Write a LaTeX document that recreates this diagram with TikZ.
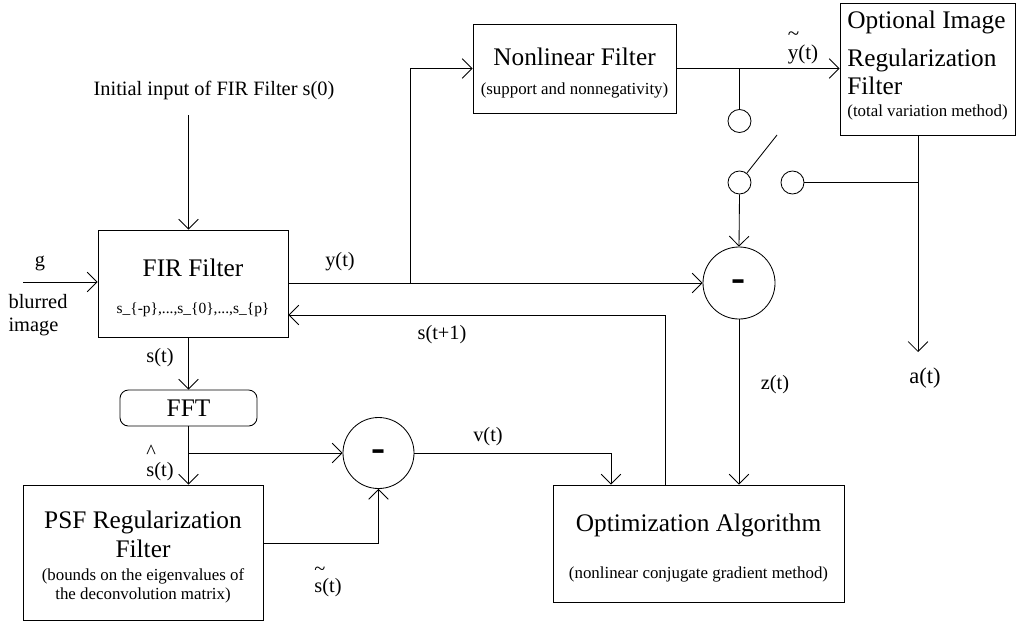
\documentclass[tikz,border=0pt]{standalone}
\usepackage{fontspec}
\setmainfont{Liberation Serif}
\usetikzlibrary{arrows.meta}
\newcommand{\blockstrut}{\rule{0pt}{19pt}}
\begin{document}
\begin{tikzpicture}[x=0.025cm, y=-0.025cm, line width=0.6pt,
    >={Straight Barb[length=7pt,width=14pt]},
    blockbox/.style={draw, rectangle, align=center, inner sep=0pt, font=\fontsize{18}{20}\selectfont},
    sumnode/.style={draw, circle, inner sep=0pt, minimum size=1.8cm, text height=12.6pt, text depth=0pt, font=\fontsize{30}{30}\bfseries},
    tapnode/.style={draw, circle, inner sep=0pt, minimum size=0.575cm},
    sig/.style={inner sep=1pt, font=\fontsize{14.5}{16}\selectfont}]
    \useasboundingbox (0,0) rectangle (1016,626);
    % Blocks
    \node[blockbox, minimum width=4.75cm, minimum height=2.675cm] (fir) at (193,283.5)
        {\blockstrut FIR Filter\\[6pt]{\fontsize{11}{13}\selectfont s\_\{-p\},...,s\_\{0\},...,s\_\{p\}}};
    \node[blockbox, minimum width=5.075cm, minimum height=2.225cm] (nlf) at (574.5,68.5)
        {\blockstrut Nonlinear Filter\\[1pt]{\fontsize{12}{14}\selectfont (support and nonnegativity)}};
    \node[blockbox, align=left, minimum width=4.375cm, minimum height=3.3cm] (oirf) at (927.5,69)
        {Optional Image\\[7pt]Regularization\\[0pt]Filter\\[-5pt]{\fontsize{12}{14}\selectfont (total variation method)\rule[-7.6pt]{0pt}{1pt}}};
    \node[blockbox, rounded corners=6pt, minimum width=3.425cm, minimum height=0.9cm] (fft) at (188.5,408) {FFT};
    \node[blockbox, minimum width=6cm, minimum height=3.375cm] (psf) at (143,552.5)
        {\blockstrut PSF Regularization\\Filter\\[-3pt]{\fontsize{12}{14}\selectfont (bounds on the eigenvalues of}\\[-7pt]{\fontsize{12}{14}\selectfont the deconvolution matrix)}};
    \node[blockbox, minimum width=7.275cm, minimum height=2.925cm] (optalg) at (698.5,543.5)
        {\blockstrut Optimization Algorithm\\[13pt]{\fontsize{12}{14}\selectfont (nonlinear conjugate gradient method)}};
    \node[sumnode] (sum1) at (739,283) {-};
    \node[sumnode, minimum size=1.775cm] (sum2) at (378.5,453) {-};
    % Switch
    \node[tapnode] (tap1) at (739.5,121) {};
    \node[tapnode] (tap2) at (739.5,182.5) {};
    \node[tapnode] (tap3) at (792.5,182.5) {};
    \coordinate (blade) at (777,135);
    % Signal labels
    \node[sig] (init) at (214,90) {Initial input of FIR Filter s(0)};
    \node[sig] (glabel) at (40,263) {g};
    \node[sig, align=left] (blur) at (38,315) {blurred\\image};
    \node[sig] (ylabel) at (340,262) {y(t)};
    \node[sig] (fblabel) at (442,335) {s(t+1)};
    \node[sig] (slabel) at (160,358) {s(t)};
    \node[sig, align=left] (shatlabel) at (160,463) {\textasciicircum\\[-3pt]s(t)};
    \node[sig] (vlabel) at (488,437) {v(t)};
    \node[sig, align=left] (stillabel) at (328,582) {\textasciitilde\\[-4pt]s(t)};
    \node[sig] (zlabel) at (775,385) {z(t)};
    \node[sig, align=left, font=\fontsize{15}{16}\selectfont] (ytillabel) at (803,48) {\textasciitilde\\[-3pt]y(t)};
    \node[sig, font=\fontsize{16}{18}\selectfont] (alabel) at (925,378) {a(t)};
    % Connectors
    \coordinate (gin) at (23,282);
    \coordinate (ytap) at (410,283);
    \coordinate (fb) at (665,315);
    \coordinate (shat) at (188.5,453);
    \coordinate (vin) at (611,453);
    \coordinate (aout) at (918,352);
    \draw[->, shorten <=10pt] (init.south -| fft) -- (fir.north -| fft);
    \draw[->] (gin) -- (gin -| fir.west);
    \draw[->] (fir.east |- sum1) -- (sum1.west);
    \draw[->] (ytap) |- (nlf.west);
    \draw[->] (nlf.east) -- (nlf.east -| oirf.west);
    \draw (tap1.north) -- (tap1.north |- nlf.east);
    \draw (tap2.52) -- (blade);
    \draw[->] (tap2.south) -- (sum1.north);
    \draw (tap3.east) -- (tap3.east -| aout);
    \draw[->] (oirf.south -| aout) -- (aout);
    \draw[->] (sum1.south) -- (sum1.south |- optalg.north);
    \draw[->] (optalg.north -| fb) |- (fir.east |- fb);
    \draw[->] (fir.south -| fft) -- (fft.north);
    \draw[->] (fft.south) -- (fft.south |- psf.north);
    \draw[->] (shat) -- (sum2.west);
    \draw[->] ([yshift=6.8pt]psf.east) -| (sum2.south);
    \draw[->] (sum2.east) -| (optalg.north -| vin);
\end{tikzpicture}
\end{document}
